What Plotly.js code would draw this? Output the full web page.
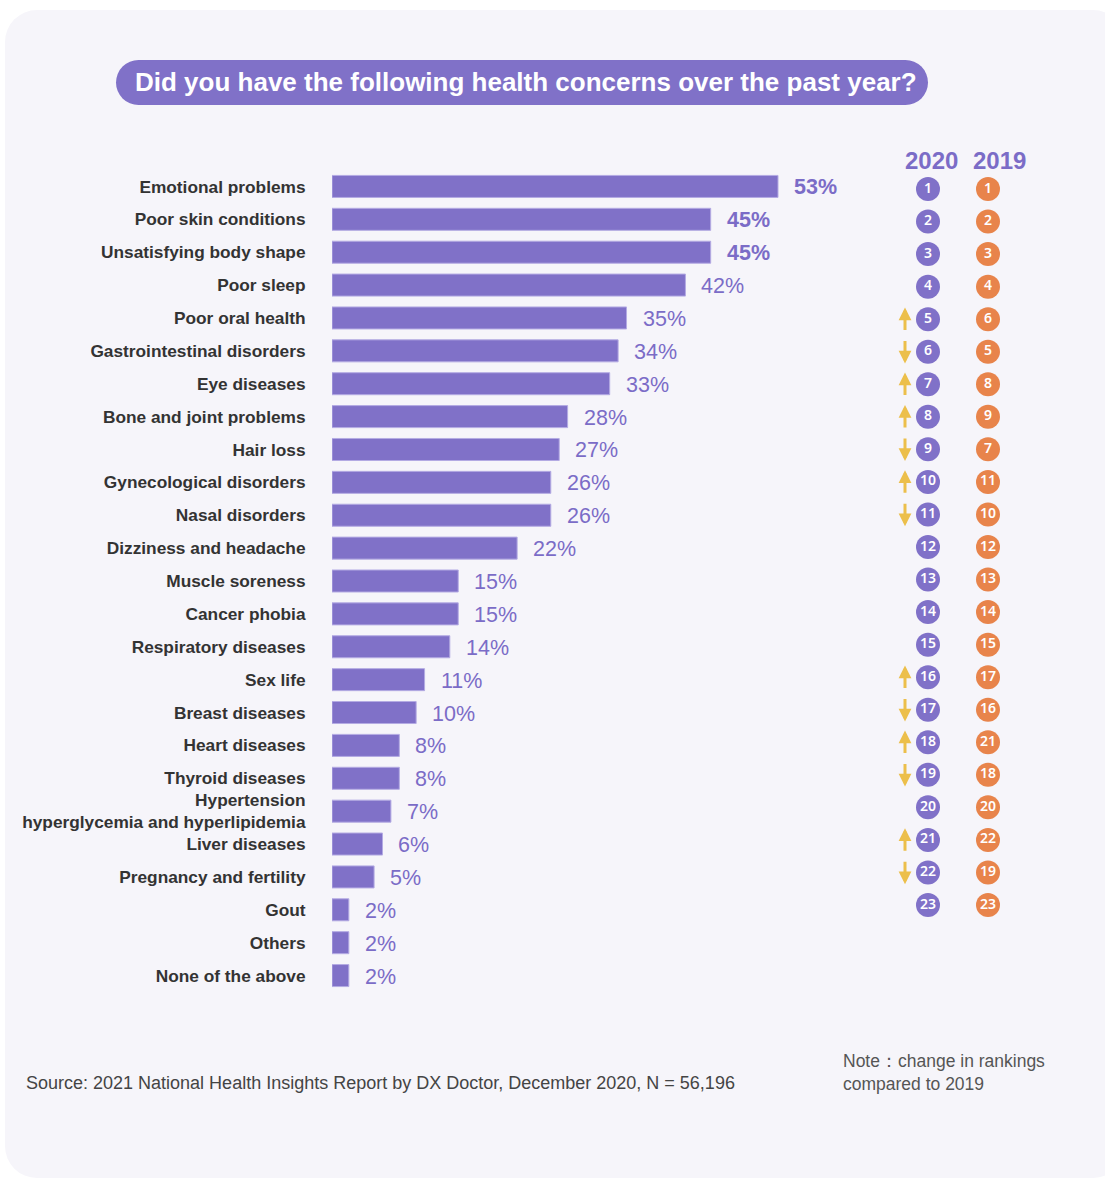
<!DOCTYPE html>
<html>
<head>
<meta charset="utf-8">
<script src="https://cdn.plot.ly/plotly-3.0.1.min.js"></script>
<style>
  html, body { margin: 0; padding: 0; background: #ffffff; }
  #card { position: absolute; left: 5px; top: 10px; width: 1120px; height: 1168px;
          border-radius: 32px; background: #f6f5fa; }
  #chart { position: absolute; left: 0; top: 0; width: 1105px; height: 1179px; }
</style>
</head>
<body>
<div id="card"></div>
<div id="chart"></div>
<script>
// Share of respondents reporting each health concern (%), top to bottom
const concerns = [
  "Emotional problems", "Poor skin conditions", "Unsatisfying body shape", "Poor sleep",
  "Poor oral health", "Gastrointestinal disorders", "Eye diseases", "Bone and joint problems",
  "Hair loss", "Gynecological disorders", "Nasal disorders", "Dizziness and headache",
  "Muscle soreness", "Cancer phobia", "Respiratory diseases", "Sex life", "Breast diseases",
  "Heart diseases", "Thyroid diseases", "Hypertension<br>hyperglycemia and hyperlipidemia",
  "Liver diseases", "Pregnancy and fertility", "Gout", "Others", "None of the above"
];
const shares = [53, 45, 45, 42, 35, 34, 33, 28, 27, 26, 26, 22, 15, 15, 14, 11, 10, 8, 8, 7, 6, 5, 2, 2, 2];

// Rankings: 2020 and the 2019 rank of the same concern
const rank2020 = [1, 2, 3, 4, 5, 6, 7, 8, 9, 10, 11, 12, 13, 14, 15, 16, 17, 18, 19, 20, 21, 22, 23];
const rank2019 = [1, 2, 3, 4, 6, 5, 8, 9, 7, 11, 10, 12, 13, 14, 15, 17, 16, 21, 18, 20, 22, 19, 23];

const years = ["2020", "2019"];
const titleText = "Did you have the following health concerns over the past year?";
const sourceText = "Source: 2021 National Health Insights Report by DX Doctor, December 2020, N = 56,196";
const noteText = "Note：change in rankings<br>compared to 2019";

// Colours
const PURPLE = "#8071c8";
const ORANGE = "#e8844b";
const YELLOW = "#ecbf4b";
const LABEL = "#7b6cc7";

// Plot area in page pixels
const W = 1105, H = 1179;
const M = { l: 332, r: 65, t: 170, b: 187 };
const PW = W - M.l - M.r, PH = H - M.t - M.b;
const pxX = x => (x - M.l) / PW;          // page x -> paper x
const pxY = y => (H - M.b - y) / PH;      // page y -> paper y

// Rank columns on the overlay axis (fraction of plot width)
const colArrow = pxX(905), col2020 = pxX(928), col2019 = pxX(988);

const bars = {
  type: "bar", orientation: "h",
  x: shares, y: concerns,
  marker: { color: PURPLE, line: { color: "#b4abe3", width: 1 } },
  width: 0.67, hoverinfo: "skip"
};

const circleFont = { family: "Noto Sans, sans-serif", size: 14, color: "#ffffff", weight: 600 };
const circles2020 = {
  type: "scatter", mode: "markers+text", xaxis: "x2", yaxis: "y2",
  x: rank2020.map(() => col2020), y: rank2020,
  text: rank2020.map(String), textposition: "middle center",
  textfont: circleFont,
  marker: { size: 24, color: PURPLE }, hoverinfo: "skip", cliponaxis: false
};
const circles2019 = {
  type: "scatter", mode: "markers+text", xaxis: "x2", yaxis: "y2",
  x: rank2019.map(() => col2019), y: rank2020,
  text: rank2019.map(String), textposition: "middle center",
  textfont: circleFont,
  marker: { size: 24, color: ORANGE }, hoverinfo: "skip", cliponaxis: false
};

const annotations = [];

// Value labels next to each bar
shares.forEach((v, i) => {
  annotations.push({
    x: v, y: concerns[i], xref: "x", yref: "y",
    text: v + "%", showarrow: false, xanchor: "left", xshift: 14, yshift: -1,
    font: { size: 21.5, color: LABEL, weight: i < 3 ? "bold" : "normal" }
  });
});

// Arrows showing the movement in ranking versus 2019
rank2020.forEach((r, i) => {
  const prev = rank2019[i];
  if (prev === r) return;
  const up = r < prev;
  annotations.push({
    x: colArrow, y: up ? r - 0.36 : r + 0.36, xref: "x2", yref: "y2",
    ax: 0, ay: up ? 24 : -24, text: "", showarrow: true,
    arrowhead: 2, arrowsize: 0.85, arrowwidth: 3, arrowcolor: YELLOW
  });
});

// Column headers
years.forEach((yr, k) => {
  annotations.push({
    x: pxX(k === 0 ? 931 : 999), y: pxY(161), xref: "paper", yref: "paper",
    text: yr, showarrow: false, xanchor: "center", yanchor: "middle",
    font: { size: 24, color: LABEL, weight: "bold" }
  });
});

// Title, source and note
annotations.push({
  x: pxX(526), y: pxY(82), xref: "paper", yref: "paper", text: titleText,
  showarrow: false, xanchor: "center", yanchor: "middle",
  font: { size: 26, color: "#ffffff", weight: "bold" }
});
annotations.push({
  x: pxX(24), y: pxY(1083), xref: "paper", yref: "paper", text: sourceText,
  showarrow: false, xanchor: "left", yanchor: "middle",
  font: { size: 18, color: "#444444" }
});
annotations.push({
  x: pxX(841), y: pxY(1072), xref: "paper", yref: "paper", text: noteText,
  showarrow: false, xanchor: "left", yanchor: "middle", align: "left",
  font: { size: 17.5, color: "#555555" }
});

// Rounded title pill: rectangle with two circular caps
const pill = { x0: 116, x1: 928, y0: 60, y1: 105 };
const rad = (pill.y1 - pill.y0) / 2;
const shapes = [
  { type: "rect", xref: "paper", yref: "paper", layer: "below", line: { width: 0 }, fillcolor: PURPLE,
    x0: pxX(pill.x0 + rad), x1: pxX(pill.x1 - rad), y0: pxY(pill.y1), y1: pxY(pill.y0) },
  { type: "circle", xref: "paper", yref: "paper", layer: "below", line: { width: 0 }, fillcolor: PURPLE,
    x0: pxX(pill.x0), x1: pxX(pill.x0 + 2 * rad), y0: pxY(pill.y1), y1: pxY(pill.y0) },
  { type: "circle", xref: "paper", yref: "paper", layer: "below", line: { width: 0 }, fillcolor: PURPLE,
    x0: pxX(pill.x1 - 2 * rad), x1: pxX(pill.x1), y0: pxY(pill.y1), y1: pxY(pill.y0) }
];

// Overlay rank axis: rank 1 at page y 189, rank 23 at page y 905
const rankStep = (905 - 189) / 22;
const rTop = 1 - (189 - M.t) / rankStep;
const rBottom = rTop + PH / rankStep;

const layout = {
  width: W, height: H,
  margin: M,
  paper_bgcolor: "rgba(0,0,0,0)", plot_bgcolor: "rgba(0,0,0,0)",
  font: { family: "Liberation Sans, Arial, sans-serif", color: "#333333" },
  showlegend: false,
  xaxis: { range: [0, PW / (446 / 53)], visible: false, fixedrange: true },
  yaxis: {
    type: "category", categoryorder: "array", categoryarray: concerns,
    range: [concerns.length - 0.5, -0.5],
    showgrid: false, zeroline: false, showline: false,
    ticks: "outside", ticklen: 22, tickcolor: "rgba(0,0,0,0)",
    tickfont: { size: 17.3, color: "#333333", weight: "bold" }, fixedrange: true
  },
  xaxis2: { overlaying: "x", range: [0, 1], visible: false, fixedrange: true },
  yaxis2: { overlaying: "y", range: [rBottom, rTop], visible: false, fixedrange: true },
  annotations: annotations,
  shapes: shapes
};

Plotly.newPlot("chart", [bars, circles2020, circles2019], layout, { displayModeBar: false, staticPlot: true });
</script>
</body>
</html>
